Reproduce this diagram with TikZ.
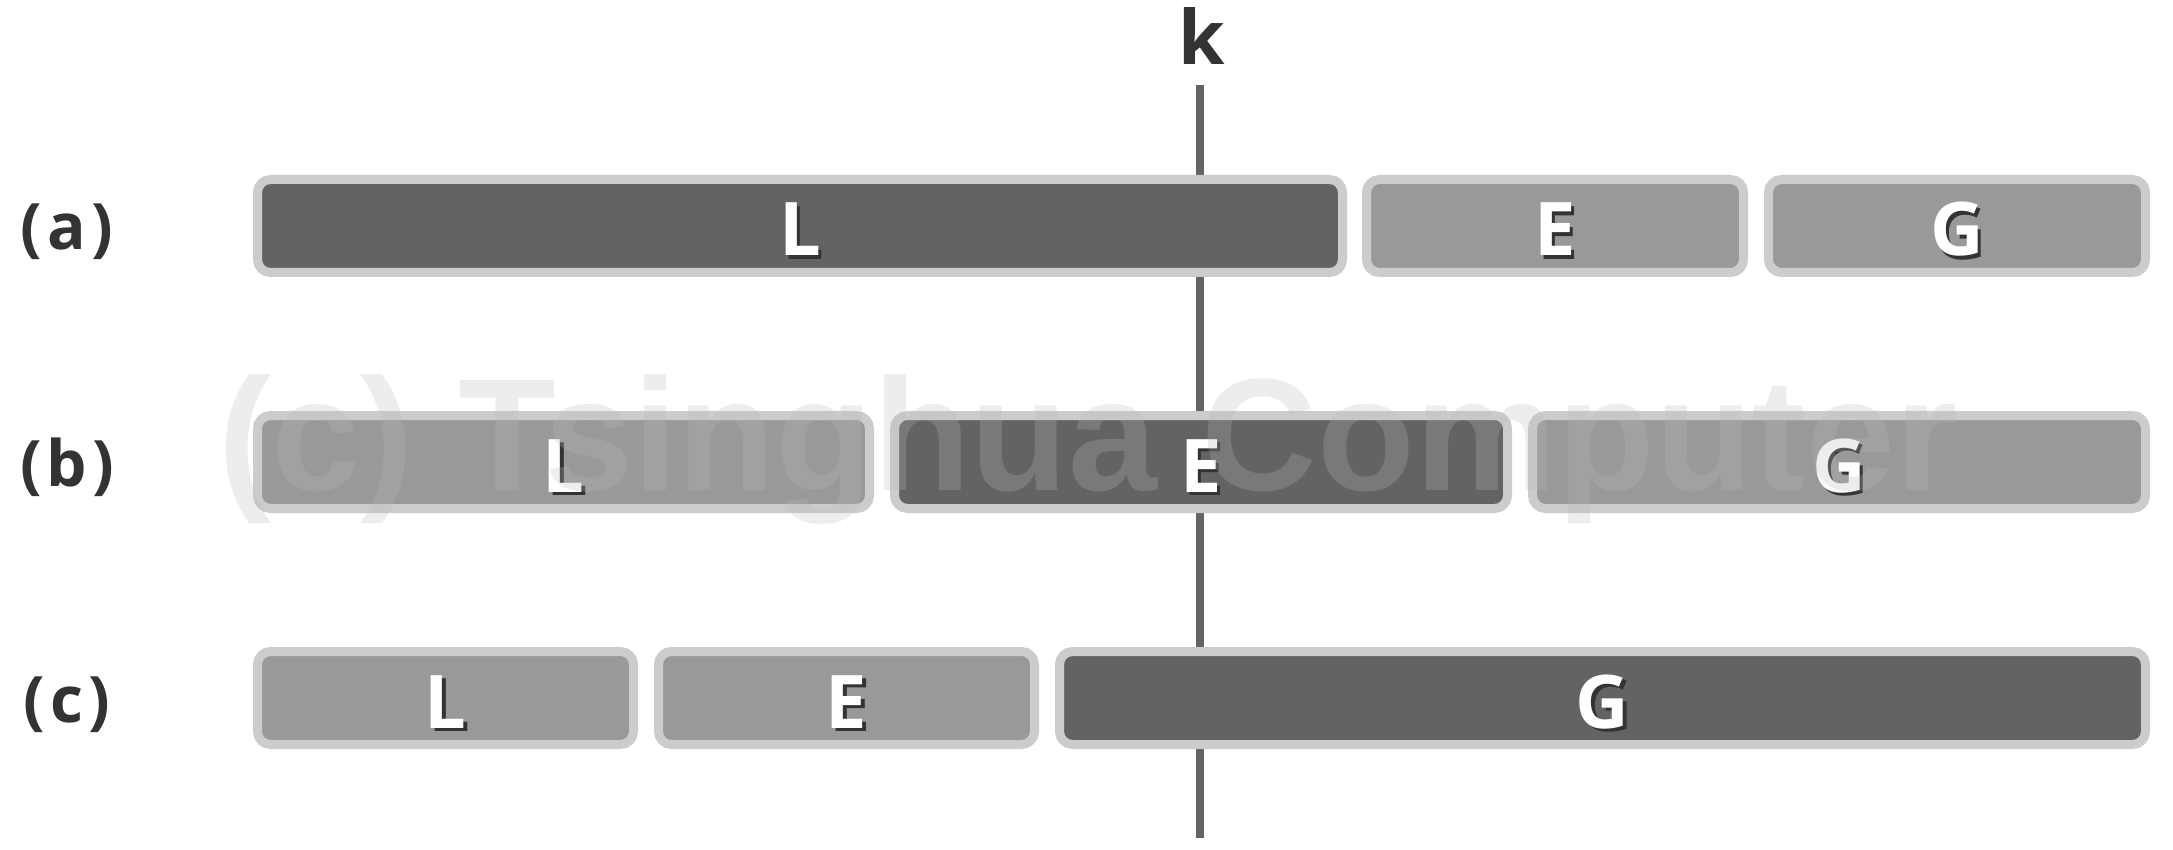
\documentclass[tikz,border=0pt]{standalone}
\usepackage{fontspec}
\setmainfont{Open Sans}
\newfontfamily\wmfont{Liberation Sans}
\definecolor{darkfill}{HTML}{636363}
\definecolor{lightfill}{HTML}{999999}
\definecolor{rim}{HTML}{CCCCCC}
\definecolor{ink}{HTML}{333333}
\definecolor{wmgray}{HTML}{BBBBBB}
\newcommand\shd[1]{\rlap{\hspace{3.5pt}\raisebox{-3.5pt}{\color{ink}#1}}#1}
\tikzset{
  seg/.style={draw=rim, line width=9pt, rounded corners=13pt, minimum height=93pt,
    inner sep=0pt, text=white, text height=60pt, text depth=0pt,
    font=\bfseries\fontsize{74}{80}\selectfont},
  segdark/.style={seg, fill=darkfill},
  seglight/.style={seg, fill=lightfill},
  rowlabel/.style={anchor=base, text=ink, inner sep=0pt, font=\bfseries\fontsize{64}{70}\selectfont},
  kline/.style={draw=darkfill, line width=8pt},
  wm/.style={anchor=base west, inner sep=0pt, text=wmgray, text opacity=0.25,
    font=\wmfont\bfseries\fontsize{160}{160}\selectfont}
}
\begin{document}
\begin{tikzpicture}[x=1pt,y=-1pt]
\useasboundingbox (0,0) rectangle (2173,850);
\fill[white] (0,0) rectangle (2173,850);
% pivot k and its line
\node[rowlabel, font=\bfseries\fontsize{75}{80}\selectfont] (k) at (1202,65) {k};
\coordinate (ktop) at (1200,85);
\coordinate (kbot) at (1200,838);
\draw[kline] (ktop) -- (kbot);
% row labels
\node[rowlabel] (la) at (67,250) {(\hspace{5pt}a\hspace{5pt})};
\node[rowlabel] (lb) at (67,486) {(\hspace{5pt}b\hspace{5pt})};
\node[rowlabel] (lc) at (67,722) {(\hspace{5pt}c\hspace{5pt})};
% row (a)
\node[segdark,  minimum width=1085pt] (aL) at (800,226)  {\shd{L}};
\node[seglight, minimum width=377pt]  (aE) at (1555,226) {\shd{E}};
\node[seglight, minimum width=377pt]  (aG) at (1957,226) {\shd{G}};
% row (b)
\node[seglight, minimum width=612pt] (bL) at (563.5,462) {\shd{L}};
\node[segdark,  minimum width=613pt] (bE) at (1201,462)  {\shd{E}};
\node[seglight, minimum width=613pt] (bG) at (1839,462)  {\shd{G}};
% row (c)
\node[seglight, minimum width=376pt]  (cL) at (445.5,698)  {\shd{L}};
\node[seglight, minimum width=376pt]  (cE) at (846.5,698)  {\shd{E}};
\node[segdark,  minimum width=1086pt] (cG) at (1602.5,698) {\shd{G}};
% watermark
\node[wm] (wmark) at (218,490) {(c) Tsinghua Computer};
\end{tikzpicture}
\end{document}
